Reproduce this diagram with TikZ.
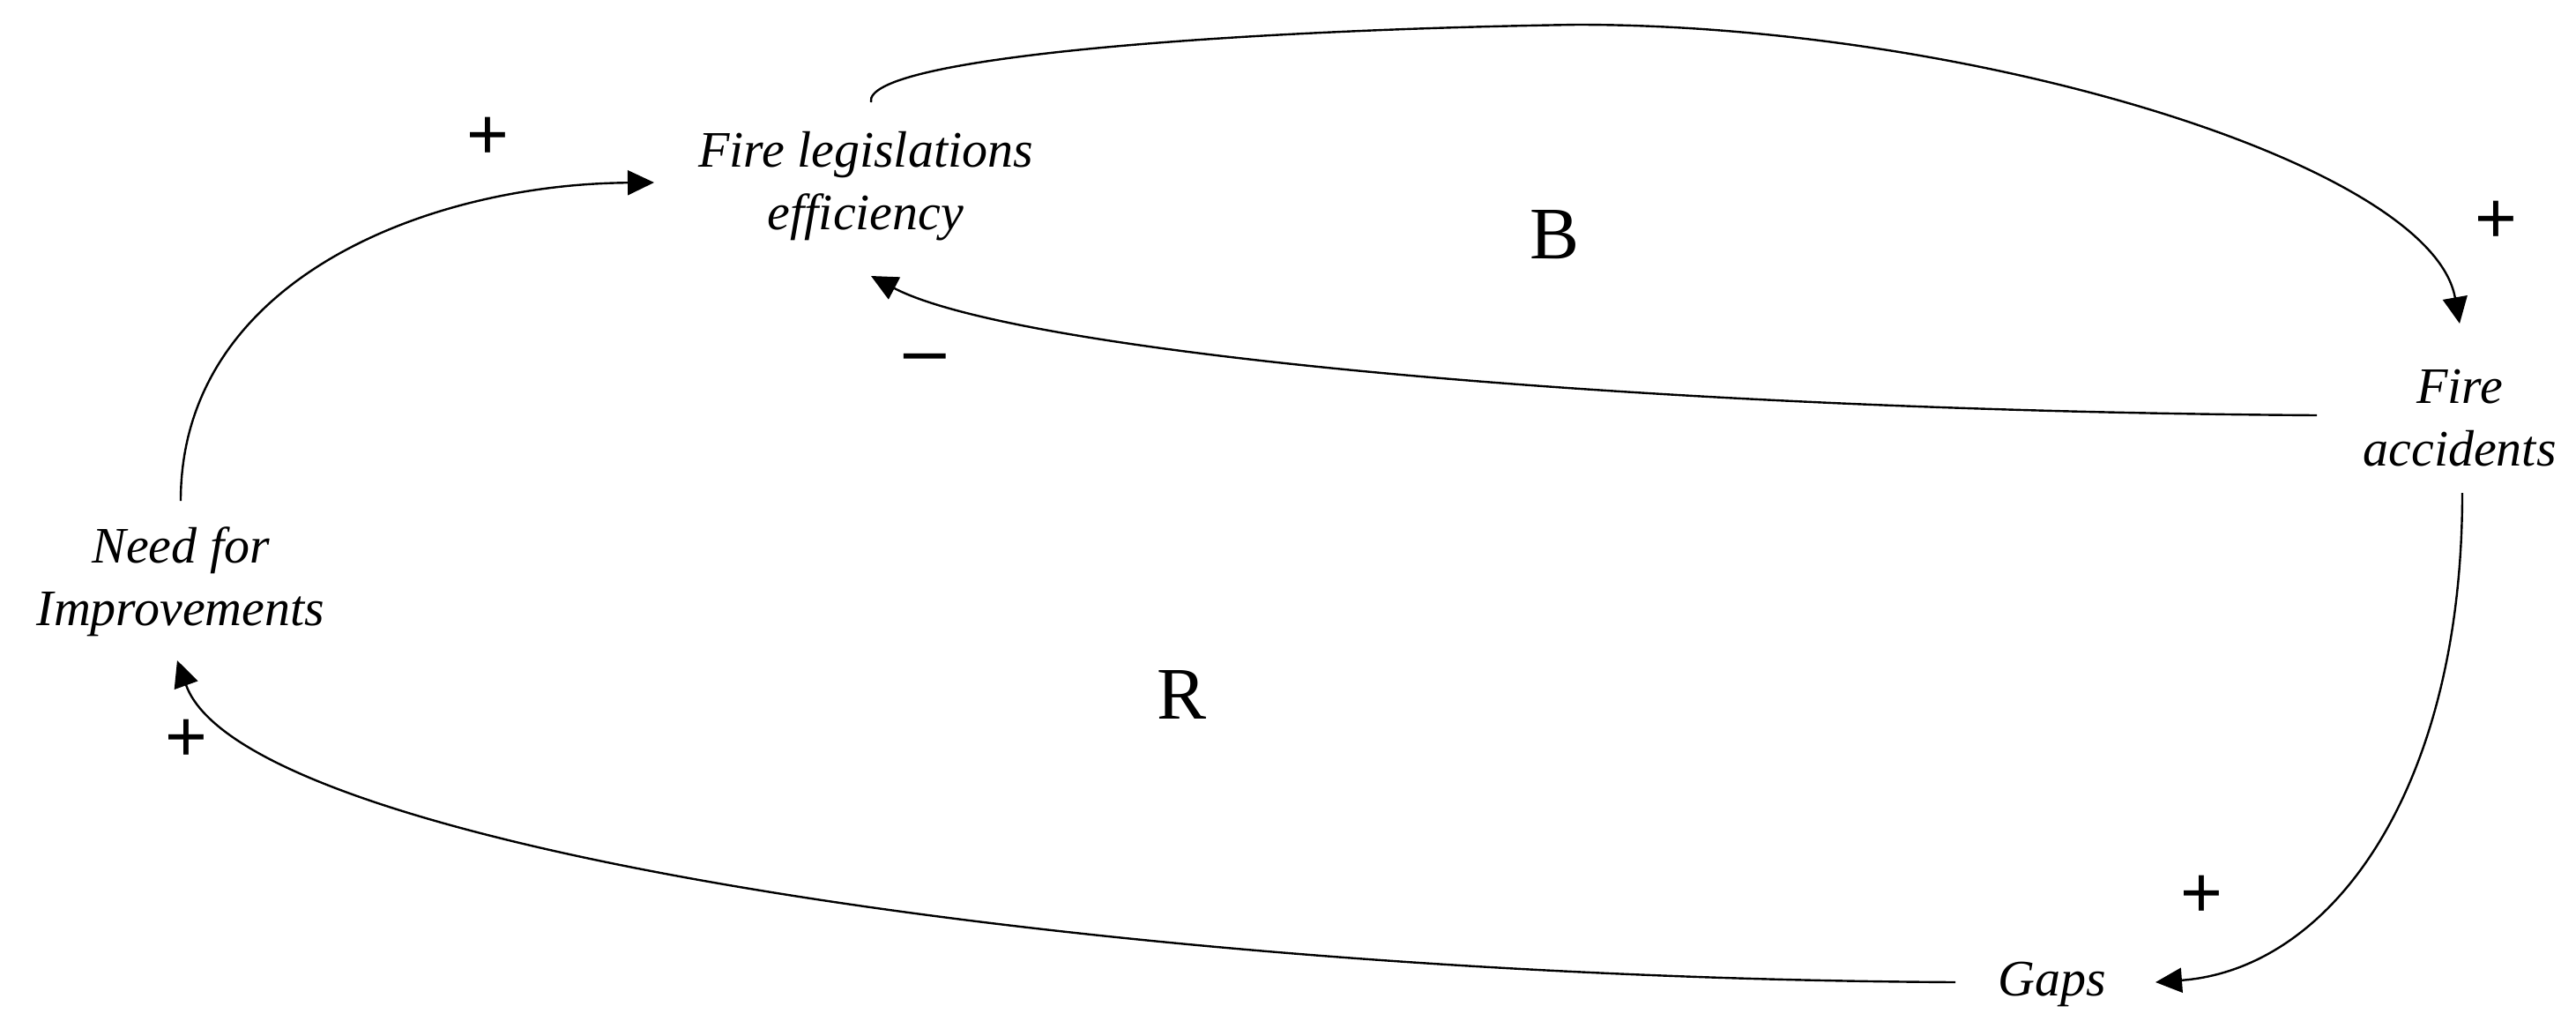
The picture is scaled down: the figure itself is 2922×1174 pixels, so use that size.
\documentclass[tikz,border=0pt]{standalone}
\usepackage{fontspec}
\setmainfont{Liberation Serif}
\newfontfamily\signfont{Liberation Sans}
\usetikzlibrary{arrows.meta,calc}
\tikzset{
  var/.style={align=center, inner sep=0pt, font=\fontsize{58bp}{71bp}\selectfont\itshape},
  sign/.style={inner sep=0pt, font=\signfont\fontsize{82bp}{82bp}\selectfont},
  loopname/.style={inner sep=0pt, font=\fontsize{84bp}{84bp}\selectfont},
  link/.style={line width=2.4bp, -{Triangle[length=30bp,width=28bp]}}
}
\begin{document}
\begin{tikzpicture}[x=1bp,y=-1bp]
\fill[white] (0,0) rectangle (2922,1174);
\useasboundingbox (0,0) rectangle (2922,1174);

\node[var] (fle) at (982,211) {Fire legislations\\efficiency};
\node[var] (acc) at (2790,474) {Fire\\accidents};
\node[var] (need) at (205,660) {Need for\\Improvements};
\node[var] (gaps) at (2328,1116) {Gaps};

\node[loopname] (B) at (1763,266) {B};
\node[loopname] (R) at (1340,788) {R};

\node[sign] (s1) at (553,157) {+};
\node[sign] (s2) at (2831,252) {+};
\node[sign, anchor=north, xscale=1.2] (s3) at (1049,401) {−};
\node[sign] (s4) at (211,840) {+};
\node[sign] (s5) at (2497,1017) {+};

% Need -> Fire legislations
\draw[link] ($(need.center)+(0,-92)$) .. controls (205,317) and (485,209) .. ($(fle.center)+(-240,-4)$);
% Fire legislations -> Fire accidents
\draw[link] ($(fle.center)+(6,-95)$) .. controls (978,65) and (1398,34) .. (1789,28)
  .. controls (2236,28) and (2758,186) .. ($(acc.center)+(0,-107)$);
% Fire accidents -> Fire legislations
\draw[link] ($(acc.center)+(-162,-3)$) .. controls (1864,466) and (1155,401) .. ($(fle.center)+(6,102)$);
% Fire accidents -> Gaps
\draw[link] ($(acc.center)+(3,85)$) .. controls (2793,894) and (2646,1099) .. ($(gaps.center)+(117,-2)$);
% Gaps -> Need
\draw[link] ($(gaps.center)+(-110,-2)$) .. controls (1304,1109) and (280,969) .. ($(need.center)+(-4,89)$);
\end{tikzpicture}
\end{document}
